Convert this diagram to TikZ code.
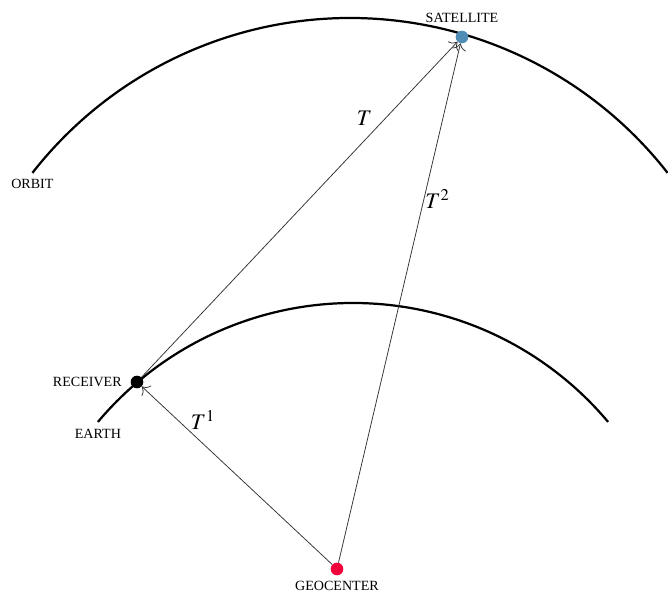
\documentclass[tikz,border=0pt]{standalone}
\usepackage{mathptmx}
\usepackage{fontspec}
\setmainfont{Liberation Serif}
\usetikzlibrary{arrows.meta, positioning, calc}
\definecolor{sat-blue}{HTML}{4F8CB6}
\definecolor{geo-red}{HTML}{F2003C}

\begin{document}
\begin{tikzpicture}[
  dot/.style={circle, inner sep=0pt, minimum size=0.38cm},
  lbl/.style={font=\fontsize{12}{14}\selectfont, inner sep=1pt},
  mlbl/.style={font=\fontsize{19}{22}\selectfont, inner sep=1pt, text=black},
  ray/.style={-{To[length=2mm]}, line width=0.65pt, black!80},
  shell/.style={line width=1.9pt}
]
  \useasboundingbox (0,0) rectangle (20.04,17.82);

  % earth and orbit
  \coordinate (earthc) at (10.59,-1.26);
  \coordinate (orbitc) at (10.5,5.19);
  \coordinate (earthw) at ($(earthc)+(140:9.99)$);
  \coordinate (orbitw) at ($(orbitc)+(142:12.09)$);
  \draw[shell] (earthw) arc[start angle=140, end angle=40, radius=9.99];
  \draw[shell] (orbitw) arc[start angle=142, end angle=38, radius=12.09];

  \node[dot, fill=sat-blue] (satellite) at (13.86,16.71) {};
  \node[dot, fill=black] (receiver) at (4.11,6.36) {};
  \node[dot, fill=geo-red] (geocenter) at (10.11,0.75) {};

  \node[lbl, above=0.2cm of satellite] (satname) {SATELLITE};
  \node[lbl, left=0.22cm of receiver] (recname) {RECEIVER};
  \node[lbl, below=0.14cm of geocenter] (geoname) {GEOCENTER};
  \node[lbl, below=0.18cm of earthw] (earthname) {EARTH};
  \node[lbl, below=0.15cm of orbitw] (orbitname) {ORBIT};

  \draw[ray] (receiver) -- node[mlbl, pos=0.74, above left=2pt] (tlabel) {$T$} (satellite);
  \draw[ray] (geocenter) -- node[mlbl, pos=0.70, right] (tlabeltwo) {$T^2$} (satellite);
  \draw[ray] (geocenter) -- node[mlbl, pos=0.75, above right] (tlabelone) {$T^1$} (receiver);

\end{tikzpicture}
\end{document}
